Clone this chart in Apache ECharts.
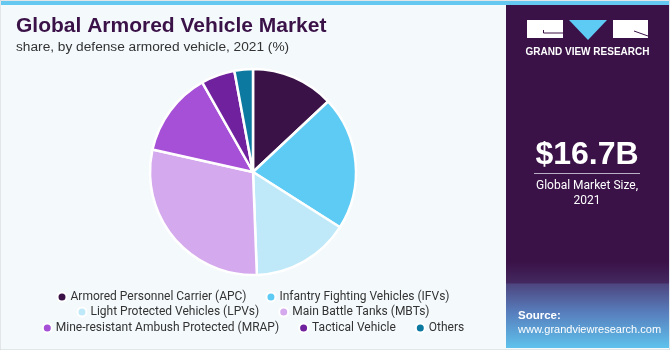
<!DOCTYPE html>
<html><head><meta charset="utf-8">
<script src="https://cdn.jsdelivr.net/npm/echarts@6/dist/echarts.min.js"></script>
<style>
html,body{margin:0;padding:0;background:#fff;}
#bg{position:absolute;left:0;top:0;width:670px;height:350px;}
#main{position:absolute;left:0;top:0;width:506px;height:350px;}
</style></head>
<body>
<div id="bg"></div>
<div id="main"></div>
<script>
const categories = [
  'Armored Personnel Carrier (APC)',
  'Infantry Fighting Vehicles (IFVs)',
  'Light Protected Vehicles (LPVs)',
  'Main Battle Tanks (MBTs)',
  'Mine-resistant Ambush Protected (MRAP)',
  'Tactical Vehicle',
  'Others'
];
const shares = [13.0, 21.0, 15.4, 29.1, 13.3, 5.3, 2.9];
const colors = ['#3a1248', '#5ecbf5', '#bfe9f9', '#d4a9ed', '#a550d6', '#70229e', '#0c7aa0'];
const legendRows = [[0, 1], [2, 3], [4, 5, 6]];
const titleText = 'Global Armored Vehicle Market';
const subtitleText = 'share, by defense armored vehicle, 2021 (%)';
const marketSize = '$16.7B';
const marketLabel = ['Global Market Size,', '2021'];
const sourceLines = ['Source:', 'www.grandviewresearch.com'];

const FONT = 'Liberation Sans, Arial, sans-serif';
const LFONT = 'Roboto, Liberation Sans, Arial, sans-serif';
const PURPLE = '#3a1248';

// Background + right panel
const bg = echarts.init(document.getElementById('bg'), null, {renderer: 'canvas'});
bg.setOption({
  animation: false,
  graphic: [
    {type: 'rect', shape: {x: 0, y: 0, width: 670, height: 350}, style: {fill: '#f4f9fc', stroke: '#cfd3d6', lineWidth: 1}},
    {type: 'rect', shape: {x: 1, y: 1, width: 668, height: 4}, style: {fill: '#64c8f0'}},
    {type: 'rect', shape: {x: 506, y: 5, width: 163, height: 343}, style: {fill: PURPLE}},
    {type: 'rect', shape: {x: 506, y: 262, width: 163, height: 86}, style: {
      fill: new echarts.graphic.LinearGradient(0, 0, 0, 1, [
        {offset: 0, color: PURPLE},
        {offset: 0.24, color: '#43285f'},
        {offset: 0.26, color: '#4d4680'},
        {offset: 0.6, color: '#5880bf'},
        {offset: 1, color: '#5ec2ec'}
      ])}},
    // logo
    {type: 'rect', shape: {x: 527, y: 20, width: 36, height: 18}, style: {fill: '#ffffff'}},
    {type: 'polyline', shape: {points: [[543.5, 30], [543.5, 33], [563, 33]]}, style: {stroke: PURPLE, lineWidth: 1, fill: null}},
    {type: 'polygon', shape: {points: [[569, 20], [607, 20], [588, 40]]}, style: {fill: '#5ecbf5'}},
    {type: 'rect', shape: {x: 613, y: 20, width: 35, height: 18}, style: {fill: '#ffffff'}},
    {type: 'line', shape: {x1: 634, y1: 31, x2: 648, y2: 36}, style: {stroke: PURPLE, lineWidth: 1}},
    {type: 'text', style: {x: 587.5, y: 52, text: 'GRAND VIEW RESEARCH', fill: '#ffffff', font: 'bold 10px ' + FONT, align: 'center', verticalAlign: 'middle'}},
    {type: 'text', style: {x: 587, y: 155, text: marketSize, fill: '#ffffff', font: 'bold 32px ' + FONT, align: 'center', verticalAlign: 'middle'}},
    {type: 'line', shape: {x1: 534, y1: 173.5, x2: 640, y2: 173.5}, style: {stroke: '#b9b0c4', lineWidth: 1}},
    {type: 'text', style: {x: 587, y: 186, text: marketLabel[0], fill: '#ffffff', font: '12px ' + LFONT, align: 'center', verticalAlign: 'middle'}},
    {type: 'text', style: {x: 587, y: 201, text: marketLabel[1], fill: '#ffffff', font: '12px ' + LFONT, align: 'center', verticalAlign: 'middle'}},
    {type: 'text', style: {x: 518, y: 316, text: sourceLines[0], fill: '#ffffff', font: 'bold 11.5px ' + FONT, align: 'left', verticalAlign: 'middle'}},
    {type: 'text', style: {x: 518, y: 330, text: sourceLines[1], fill: '#ffffff', font: '11px ' + FONT, align: 'left', verticalAlign: 'middle'}}
  ]
});

// Main chart
const chart = echarts.init(document.getElementById('main'), null, {renderer: 'canvas'});
const rowTops = [291, 306, 322];
const legends = legendRows.map((row, i) => ({
  data: row.map(k => categories[k]),
  left: 'center',
  top: rowTops[i],
  orient: 'horizontal',
  icon: 'circle',
  itemWidth: 9,
  itemHeight: 9,
  itemGap: 19,
  padding: 0,
  selectedMode: false,
  textStyle: {fontSize: 12, color: '#333333', fontFamily: LFONT, padding: [0, 0, 0, -1]}
}));
chart.setOption({
  animation: false,
  color: colors,
  title: {
    text: titleText,
    subtext: subtitleText,
    left: 16,
    top: 16,
    itemGap: 3,
    padding: 0,
    textStyle: {fontSize: 21, fontWeight: 'bold', color: PURPLE, fontFamily: FONT},
    subtextStyle: {fontSize: 13.7, color: '#333333', fontFamily: FONT}
  },
  legend: legends,
  series: [{
    type: 'pie',
    center: [253, 172],
    radius: [0, 103],
    startAngle: 90,
    clockwise: true,
    label: {show: false},
    labelLine: {show: false},
    itemStyle: {borderColor: '#ffffff', borderWidth: 2.5},
    emphasis: {disabled: true},
    data: categories.map((c, i) => ({name: c, value: shares[i]}))
  }]
});
</script>
</body></html>
